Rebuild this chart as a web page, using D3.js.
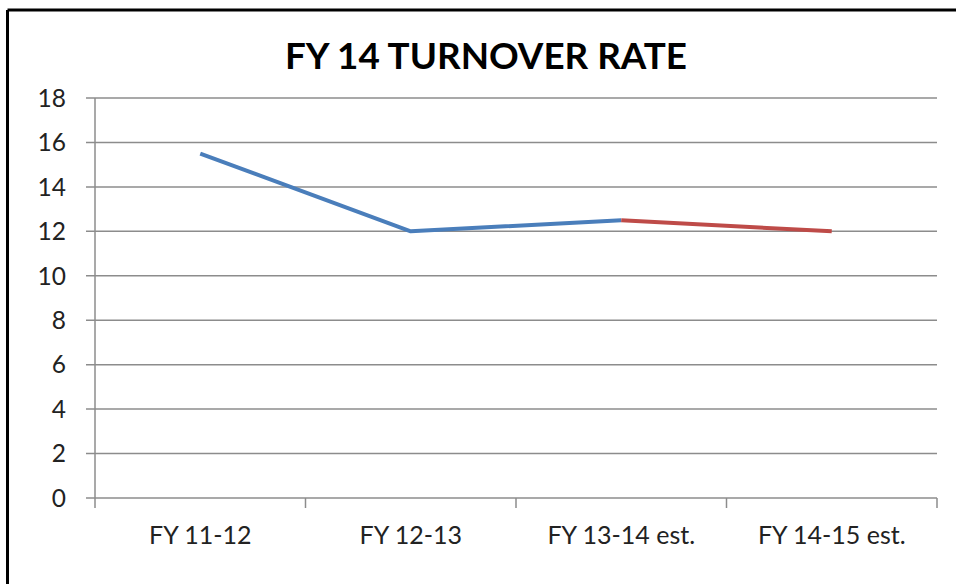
<!DOCTYPE html>
<html>
<head>
<meta charset="utf-8">
<script src="https://cdn.jsdelivr.net/npm/d3@7"></script>
<style>
  body { margin: 0; background: #fff; }
  svg text { font-family: Lato, "Open Sans", sans-serif; }
</style>
</head>
<body>
<svg id="chart" width="956" height="584"></svg>
<script>
const categories = ["FY 11-12", "FY 12-13", "FY 13-14 est.", "FY 14-15 est."];
const turnover = [15.5, 12, 12.5, 12];
const yTicks = [0, 2, 4, 6, 8, 10, 12, 14, 16, 18];
const title = "FY 14 TURNOVER RATE";

const width = 956, height = 584;
const margin = { top: 98, right: 19, bottom: 86, left: 95 };

const svg = d3.select("#chart");

// frame - only top and left edges show in the picture
svg.append("line").attr("x1", 7.5).attr("y1", 10).attr("x2", width).attr("y2", 10)
   .attr("stroke", "#000").attr("stroke-width", 3);
svg.append("line").attr("x1", 7.5).attr("y1", 10).attr("x2", 7.5).attr("y2", height)
   .attr("stroke", "#000").attr("stroke-width", 3);

const x = d3.scaleBand()
            .domain(categories)
            .range([margin.left, width - margin.right]);

const y = d3.scaleLinear()
            .domain([0, 18])
            .range([height - margin.bottom, margin.top]);

// gridlines
svg.append("g")
   .selectAll("line")
   .data(yTicks).enter()
   .append("line")
   .attr("x1", margin.left - 9)
   .attr("x2", width - margin.right)
   .attr("y1", d => y(d))
   .attr("y2", d => y(d))
   .attr("stroke", "#8c8c8c")
   .attr("stroke-width", 1.5);

// y axis line
svg.append("line")
   .attr("x1", margin.left).attr("x2", margin.left)
   .attr("y1", y(18)).attr("y2", y(0) + 10)
   .attr("stroke", "#8c8c8c").attr("stroke-width", 1.5);

// category ticks
const bounds = categories.map(c => x(c)).concat([x.range()[1]]);
svg.append("g")
   .selectAll("line")
   .data(bounds.slice(1)).enter()
   .append("line")
   .attr("x1", d => d).attr("x2", d => d)
   .attr("y1", y(0)).attr("y2", y(0) + 10)
   .attr("stroke", "#8c8c8c").attr("stroke-width", 1.5);

// y labels
svg.append("g")
   .selectAll("text")
   .data(yTicks).enter()
   .append("text")
   .attr("x", margin.left - 29)
   .attr("y", d => y(d))
   .attr("dy", "0.36em")
   .attr("text-anchor", "end")
   .attr("font-size", 24.5)
   .attr("fill", "#222")
   .text(d => d);

// x labels
svg.append("g")
   .selectAll("text")
   .data(categories).enter()
   .append("text")
   .attr("x", d => x(d) + x.bandwidth() / 2)
   .attr("y", height - 40)
   .attr("text-anchor", "middle")
   .attr("font-size", 25)
   .attr("fill", "#222")
   .text(d => d);

// title
svg.append("text")
   .attr("x", 486)
   .attr("y", 69)
   .attr("text-anchor", "middle")
   .attr("font-size", 36.8)
   .attr("font-weight", "bold")
   .attr("fill", "#000")
   .text(title);

// series: actual (blue) then estimated (red)
const pts = categories.map((c, i) => [x(c) + x.bandwidth() / 2, y(turnover[i])]);
const line = d3.line();

svg.append("path")
   .attr("d", line(pts.slice(0, 3)))
   .attr("fill", "none")
   .attr("stroke", "#4a7ebb")
   .attr("stroke-width", 4)
   .attr("stroke-linejoin", "round");

svg.append("path")
   .attr("d", line(pts.slice(2)))
   .attr("fill", "none")
   .attr("stroke", "#be4b48")
   .attr("stroke-width", 4)
   .attr("stroke-linejoin", "round");
</script>
</body>
</html>
